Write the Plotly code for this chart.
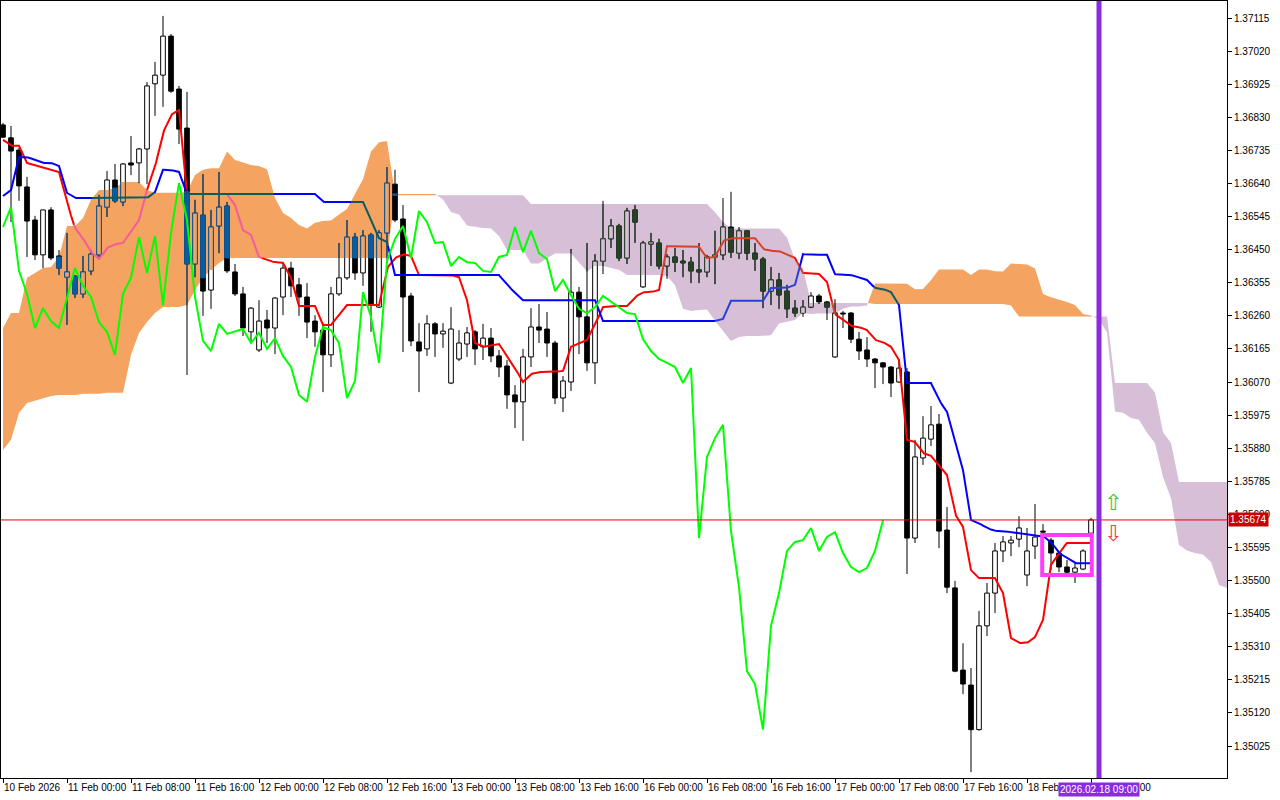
import math
import plotly.graph_objects as go

# ---------------- data (H1 candles) ----------------
open_ = [1.36808, 1.36771, 1.36736, 1.36630, 1.36535, 1.36435, 1.36564, 1.36432, 1.36371, 1.36374,
         1.36323, 1.36389, 1.36435, 1.36572, 1.36650, 1.36587, 1.36699, 1.36699, 1.36739, 1.36926,
         1.36951, 1.37063, 1.36911, 1.36799, 1.36409, 1.36549, 1.36334, 1.36518, 1.36575, 1.36386,
         1.36323, 1.36214, 1.36162, 1.36248, 1.36225, 1.36314, 1.36397, 1.36349, 1.36314, 1.36245,
         1.36219, 1.36148, 1.36323, 1.36369, 1.36486, 1.36383, 1.36492, 1.36285, 1.36498, 1.36638,
         1.36538, 1.36317, 1.36185, 1.36165, 1.36237, 1.36208, 1.36067, 1.36136, 1.36179, 1.36214,
         1.36171, 1.36196, 1.36145, 1.36116, 1.36033, 1.36013, 1.36142, 1.36228, 1.36222, 1.36182,
         1.36024, 1.36070, 1.36328, 1.36257, 1.36125, 1.36417, 1.36481, 1.36518, 1.36426, 1.36564,
         1.36343, 1.36466, 1.36469, 1.36403, 1.36429, 1.36417, 1.36414, 1.36392, 1.36386, 1.36429,
         1.36435, 1.36515, 1.36440, 1.36504, 1.36440, 1.36423, 1.36331, 1.36363, 1.36331, 1.36282,
         1.36268, 1.36285, 1.36317, 1.36300, 1.36142, 1.36268, 1.36268, 1.36193, 1.36162, 1.36136,
         1.36125, 1.36113, 1.36070, 1.36099, 1.35622, 1.35852, 1.35906, 1.35949, 1.35645, 1.35479,
         1.35243, 1.35200, 1.35072, 1.35370, 1.35464, 1.35585, 1.35608, 1.35619, 1.35516, 1.35599,
         1.35642, 1.35616, 1.35579, 1.35539, 1.35524, 1.35533, 1.35636]
high = [1.36814, 1.36805, 1.36742, 1.36659, 1.36547, 1.36564, 1.36572, 1.36449, 1.36498, 1.36377,
        1.36432, 1.36449, 1.36607, 1.36676, 1.36696, 1.36699, 1.36776, 1.36742, 1.36931, 1.36989,
        1.37121, 1.37069, 1.36920, 1.36903, 1.36593, 1.36667, 1.36564, 1.36673, 1.36587, 1.36409,
        1.36343, 1.36285, 1.36305, 1.36277, 1.36314, 1.36415, 1.36415, 1.36369, 1.36354, 1.36262,
        1.36239, 1.36343, 1.36469, 1.36535, 1.36498, 1.36506, 1.36498, 1.36506, 1.36687, 1.36679,
        1.36578, 1.36326, 1.36239, 1.36262, 1.36242, 1.36239, 1.36285, 1.36219, 1.36228, 1.36219,
        1.36237, 1.36225, 1.36162, 1.36133, 1.36061, 1.36165, 1.36282, 1.36294, 1.36271, 1.36188,
        1.36087, 1.36452, 1.36343, 1.36469, 1.36437, 1.36590, 1.36538, 1.36524, 1.36570, 1.36578,
        1.36475, 1.36498, 1.36481, 1.36437, 1.36455, 1.36449, 1.36429, 1.36469, 1.36435, 1.36504,
        1.36598, 1.36616, 1.36515, 1.36506, 1.36469, 1.36429, 1.36400, 1.36383, 1.36349, 1.36305,
        1.36305, 1.36328, 1.36323, 1.36303, 1.36308, 1.36274, 1.36271, 1.36214, 1.36199, 1.36139,
        1.36127, 1.36116, 1.36136, 1.36110, 1.35904, 1.35972, 1.36001, 1.35978, 1.35711, 1.35499,
        1.35320, 1.35249, 1.35413, 1.35493, 1.35608, 1.35628, 1.35628, 1.35685, 1.35651, 1.35720,
        1.35662, 1.35622, 1.35582, 1.35559, 1.35550, 1.35590, 1.35680]
low = [1.36771, 1.36529, 1.36590, 1.36429, 1.36420, 1.36397, 1.36420, 1.36377, 1.36234, 1.36311,
       1.36311, 1.36377, 1.36429, 1.36544, 1.36584, 1.36575, 1.36664, 1.36641, 1.36638, 1.36834,
       1.36860, 1.36900, 1.36753, 1.36090, 1.36371, 1.36260, 1.36280, 1.36440, 1.36383, 1.36317,
       1.36202, 1.36185, 1.36156, 1.36182, 1.36150, 1.36262, 1.36314, 1.36260, 1.36196, 1.36171,
       1.36041, 1.36113, 1.36317, 1.36363, 1.36363, 1.36346, 1.36214, 1.36282, 1.36420, 1.36529,
       1.36156, 1.36173, 1.36041, 1.36145, 1.36142, 1.36168, 1.36064, 1.36130, 1.36142, 1.36119,
       1.36133, 1.36127, 1.36084, 1.35993, 1.35938, 1.35901, 1.36113, 1.36182, 1.36142, 1.36007,
       1.35984, 1.36044, 1.36150, 1.36102, 1.36064, 1.36380, 1.36455, 1.36417, 1.36409, 1.36469,
       1.36340, 1.36403, 1.36394, 1.36366, 1.36386, 1.36371, 1.36354, 1.36354, 1.36371, 1.36351,
       1.36420, 1.36426, 1.36423, 1.36420, 1.36389, 1.36282, 1.36291, 1.36280, 1.36254, 1.36257,
       1.36257, 1.36282, 1.36294, 1.36248, 1.36139, 1.36225, 1.36182, 1.36133, 1.36113, 1.36053,
       1.36064, 1.36027, 1.36067, 1.35519, 1.35608, 1.35832, 1.35886, 1.35593, 1.35464, 1.35237,
       1.35174, 1.34950, 1.35069, 1.35341, 1.35407, 1.35553, 1.35570, 1.35596, 1.35484, 1.35562,
       1.35628, 1.35530, 1.35524, 1.35519, 1.35493, 1.35530, 1.35616]
close = [1.36773, 1.36733, 1.36633, 1.36532, 1.36435, 1.36564, 1.36426, 1.36397, 1.36386, 1.36323,
         1.36386, 1.36437, 1.36575, 1.36650, 1.36590, 1.36696, 1.36693, 1.36739, 1.36920, 1.36951,
         1.37063, 1.36905, 1.36796, 1.36409, 1.36555, 1.36331, 1.36515, 1.36572, 1.36389, 1.36323,
         1.36225, 1.36282, 1.36245, 1.36225, 1.36311, 1.36397, 1.36346, 1.36314, 1.36242, 1.36214,
         1.36148, 1.36323, 1.36369, 1.36486, 1.36383, 1.36489, 1.36291, 1.36498, 1.36641, 1.36535,
         1.36314, 1.36188, 1.36159, 1.36237, 1.36208, 1.36216, 1.36222, 1.36182, 1.36211, 1.36165,
         1.36196, 1.36145, 1.36113, 1.36033, 1.36013, 1.36142, 1.36228, 1.36219, 1.36182, 1.36024,
         1.36073, 1.36328, 1.36257, 1.36125, 1.36417, 1.36481, 1.36518, 1.36426, 1.36561, 1.36529,
         1.36469, 1.36472, 1.36403, 1.36429, 1.36414, 1.36412, 1.36389, 1.36386, 1.36429, 1.36435,
         1.36515, 1.36443, 1.36504, 1.36440, 1.36423, 1.36331, 1.36363, 1.36320, 1.36280, 1.36268,
         1.36285, 1.36317, 1.36300, 1.36285, 1.36268, 1.36265, 1.36193, 1.36159, 1.36136, 1.36125,
         1.36113, 1.36067, 1.36110, 1.35622, 1.35855, 1.35909, 1.35947, 1.35642, 1.35481, 1.35240,
         1.35203, 1.35072, 1.35370, 1.35464, 1.35585, 1.35611, 1.35616, 1.35651, 1.35585, 1.35625,
         1.35639, 1.35579, 1.35539, 1.35524, 1.35536, 1.35585, 1.35674]

tenkan = [1.36765, 1.36748, 1.36748, 1.36699, 1.36693, 1.36687, 1.36681, 1.36673, 1.36584, 1.36512,
          1.36483, 1.36443, 1.36423, 1.36455, 1.36466, 1.36469, 1.36504, 1.36535, 1.36621, 1.36687,
          1.36785, 1.36837, 1.36851, 1.36610, 1.36610, 1.36610, 1.36610, 1.36610, 1.36610, 1.36578,
          1.36506, 1.36492, 1.36429, 1.36420, 1.36414, 1.36412, 1.36369, 1.36288, 1.36288, 1.36288,
          1.36234, 1.36234, 1.36262, 1.36291, 1.36291, 1.36291, 1.36291, 1.36291, 1.36397, 1.36426,
          1.36437, 1.36432, 1.36377, 1.36377, 1.36377, 1.36377, 1.36377, 1.36371, 1.36305, 1.36182,
          1.36171, 1.36176, 1.36179, 1.36145, 1.36110, 1.36070, 1.36093, 1.36099, 1.36099, 1.36099,
          1.36102, 1.36171, 1.36182, 1.36191, 1.36234, 1.36285, 1.36288, 1.36288, 1.36288, 1.36314,
          1.36328, 1.36328, 1.36334, 1.36460, 1.36460, 1.36460, 1.36460, 1.36458, 1.36426, 1.36429,
          1.36475, 1.36483, 1.36483, 1.36483, 1.36483, 1.36452, 1.36446, 1.36446, 1.36437, 1.36426,
          1.36383, 1.36383, 1.36380, 1.36357, 1.36265, 1.36248, 1.36231, 1.36228, 1.36219, 1.36191,
          1.36185, 1.36171, 1.36133, 1.35904, 1.35898, 1.35866, 1.35858, 1.35829, 1.35803, 1.35691,
          1.35654, 1.35530, 1.35507, 1.35507, 1.35507, 1.35464, 1.35335, 1.35321, 1.35321, 1.35338,
          1.35387, 1.35545, 1.35579, 1.35608, 1.35608, 1.35608, 1.35608]
kijun = [1.36604, 1.36621, 1.36716, 1.36716, 1.36707, 1.36699, 1.36699, 1.36690, 1.36613, 1.36598,
         1.36598, 1.36598, 1.36598, 1.36598, 1.36598, 1.36598, 1.36598, 1.36598, 1.36598, 1.36615,
         1.36679, 1.36679, 1.36673, 1.36610, 1.36610, 1.36610, 1.36610, 1.36610, 1.36610, 1.36610,
         1.36610, 1.36610, 1.36610, 1.36610, 1.36610, 1.36610, 1.36610, 1.36610, 1.36610, 1.36610,
         1.36587, 1.36587, 1.36587, 1.36587, 1.36587, 1.36587, 1.36535, 1.36483, 1.36472, 1.36377,
         1.36377, 1.36377, 1.36377, 1.36377, 1.36377, 1.36377, 1.36377, 1.36377, 1.36377, 1.36377,
         1.36377, 1.36377, 1.36377, 1.36349, 1.36326, 1.36305, 1.36305, 1.36305, 1.36305, 1.36305,
         1.36305, 1.36305, 1.36305, 1.36305, 1.36305, 1.36245, 1.36245, 1.36245, 1.36245, 1.36245,
         1.36245, 1.36245, 1.36245, 1.36245, 1.36245, 1.36245, 1.36245, 1.36245, 1.36245, 1.36245,
         1.36251, 1.36303, 1.36303, 1.36303, 1.36303, 1.36303, 1.36340, 1.36340, 1.36340, 1.36349,
         1.36437, 1.36435, 1.36435, 1.36435, 1.36380, 1.36377, 1.36377, 1.36371, 1.36363, 1.36340,
         1.36337, 1.36328, 1.36291, 1.36067, 1.36067, 1.36067, 1.36067, 1.36018, 1.35984, 1.35904,
         1.35817, 1.35674, 1.35665, 1.35651, 1.35642, 1.35642, 1.35639, 1.35636, 1.35634, 1.35631,
         1.35628, 1.35611, 1.35579, 1.35565, 1.35550, 1.35550, 1.35550]

# Senkou spans as displayed (already shifted 26 bars forward), bars 0..153
span_a = [1.36225, 1.36268, 1.36268, 1.36369, 1.36383, 1.36397, 1.36400, 1.36429, 1.36518, 1.36518,
          1.36541, 1.36593, 1.36621, 1.36621, 1.36627, 1.36644, 1.36644, 1.36644, 1.36621, 1.36613,
          1.36613, 1.36613, 1.36613, 1.36616, 1.36664, 1.36679, 1.36684, 1.36684, 1.36732, 1.36707,
          1.36700, 1.36693, 1.36690, 1.36681, 1.36598, 1.36555, 1.36541, 1.36521, 1.36511, 1.36527,
          1.36532, 1.36534, 1.36551, 1.36567, 1.36610, 1.36652, 1.36732, 1.36758, 1.36762, 1.36610,
          1.36610, 1.36610, 1.36610, 1.36610, 1.36610, 1.36594, 1.36558, 1.36551, 1.36519, 1.36515,
          1.36512, 1.36511, 1.36489, 1.36449, 1.36449, 1.36449, 1.36410, 1.36410, 1.36425, 1.36439,
          1.36439, 1.36439, 1.36413, 1.36387, 1.36403, 1.36403, 1.36397, 1.36392, 1.36377, 1.36377,
          1.36377, 1.36377, 1.36377, 1.36374, 1.36348, 1.36280, 1.36274, 1.36277, 1.36278, 1.36246,
          1.36218, 1.36188, 1.36199, 1.36202, 1.36202, 1.36202, 1.36204, 1.36238, 1.36244, 1.36248,
          1.36269, 1.36265, 1.36267, 1.36267, 1.36267, 1.36280, 1.36287, 1.36287, 1.36290, 1.36353,
          1.36353, 1.36353, 1.36353, 1.36352, 1.36336, 1.36337, 1.36363, 1.36393, 1.36393, 1.36393,
          1.36393, 1.36377, 1.36393, 1.36393, 1.36388, 1.36387, 1.36410, 1.36409, 1.36407, 1.36396,
          1.36323, 1.36313, 1.36307, 1.36300, 1.36291, 1.36265, 1.36261, 1.36249, 1.36212, 1.35985,
          1.35982, 1.35967, 1.35962, 1.35924, 1.35894, 1.35797, 1.35736, 1.35602, 1.35586, 1.35579,
          1.35575, 1.35553, 1.35487, 1.35479]
span_b = [1.35875, 1.35904, 1.35981, 1.36010, 1.36018, 1.36024, 1.36030, 1.36033, 1.36033, 1.36033,
          1.36036, 1.36036, 1.36036, 1.36039, 1.36039, 1.36039, 1.36148, 1.36211, 1.36242, 1.36268,
          1.36285, 1.36285, 1.36285, 1.36291, 1.36334, 1.36369, 1.36392, 1.36412, 1.36426, 1.36426,
          1.36426, 1.36426, 1.36426, 1.36426, 1.36426, 1.36426, 1.36426, 1.36426, 1.36426, 1.36426,
          1.36426, 1.36426, 1.36426, 1.36426, 1.36426, 1.36426, 1.36426, 1.36426, 1.36426, 1.36606,
          1.36606, 1.36606, 1.36606, 1.36606, 1.36606, 1.36606, 1.36606, 1.36606, 1.36606, 1.36606,
          1.36606, 1.36606, 1.36606, 1.36606, 1.36606, 1.36606, 1.36581, 1.36581, 1.36581, 1.36581,
          1.36581, 1.36581, 1.36581, 1.36581, 1.36581, 1.36581, 1.36581, 1.36581, 1.36581, 1.36581,
          1.36581, 1.36581, 1.36581, 1.36581, 1.36581, 1.36581, 1.36581, 1.36581, 1.36581, 1.36557,
          1.36529, 1.36511, 1.36511, 1.36511, 1.36511, 1.36511, 1.36511, 1.36511, 1.36485, 1.36420,
          1.36397, 1.36297, 1.36297, 1.36297, 1.36297, 1.36297, 1.36297, 1.36297, 1.36297, 1.36294,
          1.36294, 1.36294, 1.36294, 1.36294, 1.36294, 1.36294, 1.36294, 1.36294, 1.36294, 1.36294,
          1.36294, 1.36294, 1.36294, 1.36294, 1.36294, 1.36294, 1.36290, 1.36258, 1.36258, 1.36258,
          1.36258, 1.36258, 1.36258, 1.36258, 1.36258, 1.36258, 1.36258, 1.36258, 1.36258, 1.36067,
          1.36067, 1.36067, 1.36067, 1.36067, 1.36040, 1.35926, 1.35895, 1.35783, 1.35783, 1.35783,
          1.35783, 1.35783, 1.35783, 1.35783]

time_labels = ["10 Feb 2026", "11 Feb 00:00", "11 Feb 08:00", "11 Feb 16:00", "12 Feb 00:00",
               "12 Feb 08:00", "12 Feb 16:00", "13 Feb 00:00", "13 Feb 08:00", "13 Feb 16:00",
               "16 Feb 00:00", "16 Feb 08:00", "16 Feb 16:00", "17 Feb 00:00", "17 Feb 08:00",
               "17 Feb 16:00", "18 Feb 00:00", "18 Feb 08:00"]
price_ticks = [1.37115, 1.37020, 1.36925, 1.36830, 1.36735, 1.36640, 1.36545, 1.36450, 1.36355,
               1.36260, 1.36165, 1.36070, 1.35975, 1.35880, 1.35785, 1.35690, 1.35595, 1.35500,
               1.35405, 1.35310, 1.35215, 1.35120, 1.35025]
current_price = 1.35674
cursor_label = "2026.02.18 09:00"
box_price_range = [1.35516, 1.35631]
CHIKOU_SHIFT = 26
LABEL_STEP = 8

# ---------------- styling ----------------
ORANGE = (244, 164, 96)     # sandybrown
THISTLE = (216, 191, 216)   # thistle
BLACK = (0, 0, 0)
RED = (255, 0, 0)
BLUE = (0, 0, 255)
LIME = (0, 255, 0)
W = 0.29  # half body width in bars
FONT = "Liberation Sans"


def rgb(c):
    return "rgb(%d,%d,%d)" % c


def inv(src, fill):
    return tuple((255 - s) ^ f for s, f in zip(src, fill))


n = len(close)
xb = list(range(n))
n_cloud = len(span_a)
CLOUD_FILL = {"o": ORANGE, "p": THISTLE}


def cloud_at(x):
    x = min(max(x, 0), n_cloud - 1)
    i0 = int(math.floor(x))
    i1 = min(i0 + 1, n_cloud - 1)
    t = x - i0
    a = span_a[i0] + (span_a[i1] - span_a[i0]) * t
    b = span_b[i0] + (span_b[i1] - span_b[i0]) * t
    return a, b


def classify(x, y):
    a, b = cloud_at(x)
    if min(a, b) <= y <= max(a, b):
        return "o" if a >= b else "p"
    return None


fig = go.Figure()

# ---------------- cloud ----------------
runs = []
cur = None
xs, aa, bb = [], [], []
for i in range(n_cloud):
    d = span_a[i] - span_b[i]
    cls = "o" if d >= 0 else "p"
    if cur is None:
        cur, xs, aa, bb = cls, [i], [span_a[i]], [span_b[i]]
        continue
    if cls != cur:
        dp = span_a[i - 1] - span_b[i - 1]
        t = dp / (dp - d)
        xc = i - 1 + t
        yc = span_a[i - 1] + (span_a[i] - span_a[i - 1]) * t
        xs.append(xc); aa.append(yc); bb.append(yc)
        runs.append((cur, xs, aa, bb))
        cur, xs, aa, bb = cls, [xc, i], [yc, span_a[i]], [yc, span_b[i]]
    else:
        xs.append(i); aa.append(span_a[i]); bb.append(span_b[i])
runs.append((cur, xs, aa, bb))

for cls in ("o", "p"):
    px, py = [], []
    for c, rx, ra, rb in runs:
        if c != cls:
            continue
        px += rx + rx[::-1] + [None]
        py += ra + rb[::-1] + [None]
    fig.add_trace(go.Scatter(x=px, y=py, mode="lines", fill="toself",
                             fillcolor=rgb(CLOUD_FILL[cls]), line=dict(width=0, color=rgb(CLOUD_FILL[cls])),
                             hoverinfo="skip", showlegend=False))

# ---------------- candles ----------------
wx, wy = [], []
ux, uy, dx, dy = [], [], [], []
for i in range(n):
    wx += [i, i, None]
    wy += [low[i], high[i], None]
    o, c = open_[i], close[i]
    rx = [i - W, i + W, i + W, i - W, i - W, None]
    ry = [o, o, c, c, o, None]
    if c >= o:
        ux += rx; uy += ry
    else:
        dx += rx; dy += ry
fig.add_trace(go.Scatter(x=wx, y=wy, mode="lines", line=dict(color="black", width=1),
                         hoverinfo="skip", showlegend=False))
fig.add_trace(go.Scatter(x=ux, y=uy, mode="lines", fill="toself", fillcolor="white",
                         line=dict(color="black", width=1), hoverinfo="skip", showlegend=False))
fig.add_trace(go.Scatter(x=dx, y=dy, mode="lines", fill="toself", fillcolor="black",
                         line=dict(color="black", width=1), hoverinfo="skip", showlegend=False))

# cloud painted over the candles in MT5 "inverse" style
for cls in ("o", "p"):
    fillc = CLOUD_FILL[cls]
    invc = rgb(inv(BLACK, fillc))
    owx, owy, obx, oby, ofx, ofy, olx, oly = [], [], [], [], [], [], [], []
    for i in range(n):
        a, b = span_a[i], span_b[i]
        if ("o" if a >= b else "p") != cls:
            continue
        lo_c, hi_c = min(a, b), max(a, b)
        lo, hi = max(low[i], lo_c), min(high[i], hi_c)
        if hi > lo:
            owx += [i, i, None]; owy += [lo, hi, None]
        bmin, bmax = min(open_[i], close[i]), max(open_[i], close[i])
        blo, bhi = max(bmin, lo_c), min(bmax, hi_c)
        if bhi > blo:
            rx = [i - W, i + W, i + W, i - W, i - W, None]
            ry = [blo, blo, bhi, bhi, blo, None]
            if close[i] < open_[i]:
                obx += rx; oby += ry
            else:
                ofx += rx; ofy += ry
                olx += [i - W, i - W, None, i + W, i + W, None]
                oly += [blo, bhi, None, blo, bhi, None]
                if bhi >= bmax:
                    olx += [i - W, i + W, None]; oly += [bhi, bhi, None]
                if blo <= bmin:
                    olx += [i - W, i + W, None]; oly += [blo, blo, None]
    fig.add_trace(go.Scatter(x=owx, y=owy, mode="lines", line=dict(color=invc, width=1),
                             hoverinfo="skip", showlegend=False))
    fig.add_trace(go.Scatter(x=obx, y=oby, mode="lines", fill="toself", fillcolor=invc,
                             line=dict(color=invc, width=1), hoverinfo="skip", showlegend=False))
    fig.add_trace(go.Scatter(x=ofx, y=ofy, mode="lines", fill="toself", fillcolor=rgb(fillc),
                             line=dict(color=rgb(fillc), width=0), hoverinfo="skip", showlegend=False))
    fig.add_trace(go.Scatter(x=olx, y=oly, mode="lines", line=dict(color=invc, width=1),
                             hoverinfo="skip", showlegend=False))


# ---------------- indicator lines ----------------
def add_split_line(xv, yv, base, width=2, sub=8):
    pieces = {None: ([], []), "o": ([], []), "p": ([], [])}
    prev = "start"
    for k in range(len(xv) - 1):
        x0, y0, x1, y1 = xv[k], yv[k], xv[k + 1], yv[k + 1]
        for s in range(sub):
            t0, t1 = s / sub, (s + 1) / sub
            xa, ya = x0 + (x1 - x0) * t0, y0 + (y1 - y0) * t0
            xe, ye = x0 + (x1 - x0) * t1, y0 + (y1 - y0) * t1
            cls = classify((xa + xe) / 2, (ya + ye) / 2)
            px, py = pieces[cls]
            if cls != prev:
                px += [None, xa]; py += [None, ya]
            px.append(xe); py.append(ye)
            prev = cls
    for cls, (px, py) in pieces.items():
        if not px:
            continue
        col = base if cls is None else inv(base, CLOUD_FILL[cls])
        fig.add_trace(go.Scatter(x=px, y=py, mode="lines", line=dict(color=rgb(col), width=width),
                                 hoverinfo="skip", showlegend=False))


add_split_line(xb, tenkan, RED)
add_split_line(xb, kijun, BLUE)
chikou_x = list(range(n - CHIKOU_SHIFT))
chikou_y = close[CHIKOU_SHIFT:]
fig.add_trace(go.Scatter(x=chikou_x, y=chikou_y, mode="lines", line=dict(color=rgb(LIME), width=2),
                         hoverinfo="skip", showlegend=False))

# ---------------- layout ----------------
X0, X1 = -0.25, 153.0
Y0, Y1 = 1.349332, 1.371638
future_bar = n  # the next (not yet formed) bar

fig.update_layout(
    width=1280, height=800,
    margin=dict(l=1, r=53, t=1, b=22, autoexpand=False),
    paper_bgcolor="white", plot_bgcolor="white",
    showlegend=False,
    font=dict(family=FONT, size=10, color="black"),
    xaxis=dict(range=[X0, X1], showgrid=False, zeroline=False, showline=True, mirror=True,
               linecolor="black", linewidth=1, ticks="outside", ticklen=4, tickcolor="black",
               tickvals=[k * LABEL_STEP for k in range(len(time_labels))], ticktext=time_labels,
               tickangle=0, automargin=False,
               ticklabelposition="outside right", tickfont=dict(family=FONT, size=10, color="black"),
               fixedrange=True),
    yaxis=dict(range=[Y0, Y1], side="right", showgrid=False, zeroline=False, showline=True,
               mirror=True, linecolor="black", linewidth=1, ticks="outside", ticklen=4,
               tickcolor="black", tickvals=price_ticks, ticktext=["%.5f" % v for v in price_ticks],
               automargin=False,
               tickfont=dict(family=FONT, size=10, color="black"), fixedrange=True),
    shapes=[
        dict(type="line", xref="paper", x0=0, x1=1, yref="y", y0=current_price, y1=current_price,
             line=dict(color="#E8000B", width=1), layer="above"),
        dict(type="line", xref="x", x0=future_bar, x1=future_bar, yref="paper", y0=0, y1=1,
             line=dict(color="#8A2BE2", width=5), layer="above"),
        dict(type="rect", xref="x", x0=n - 7.1, x1=n - 0.9, yref="y",
             y0=box_price_range[0], y1=box_price_range[1],
             line=dict(color="#FF3CFF", width=4), fillcolor="rgba(0,0,0,0)", layer="above"),
    ],
    annotations=[
        dict(xref="paper", x=1, xanchor="left", xshift=1, yref="y", y=current_price,
             text="%.5f" % current_price, showarrow=False, bgcolor="#C80000",
             font=dict(family=FONT, size=10, color="white"), borderpad=1),
        dict(xref="x", x=future_bar, xanchor="center", yref="paper", y=0, yanchor="top", yshift=-4,
             text=cursor_label, showarrow=False, bgcolor="#8A2BE2",
             font=dict(family=FONT, size=10, color="white"), borderpad=1),
        dict(xref="x", x=future_bar + 1.75, yref="y", y=1.35723, text="⇧", showarrow=False,
             font=dict(family="DejaVu Sans", size=22, color="#35C835")),
        dict(xref="x", x=future_bar + 1.75, yref="y", y=1.35636, text="⇩", showarrow=False,
             font=dict(family="DejaVu Sans", size=22, color="#F04040")),
    ],
)

# the page's default 8px body margin would shift the whole chart; remove it
fig.write_html("out.html",
               config={"displayModeBar": False},
               post_script="document.body.style.margin='0';document.body.style.overflow='hidden';")
